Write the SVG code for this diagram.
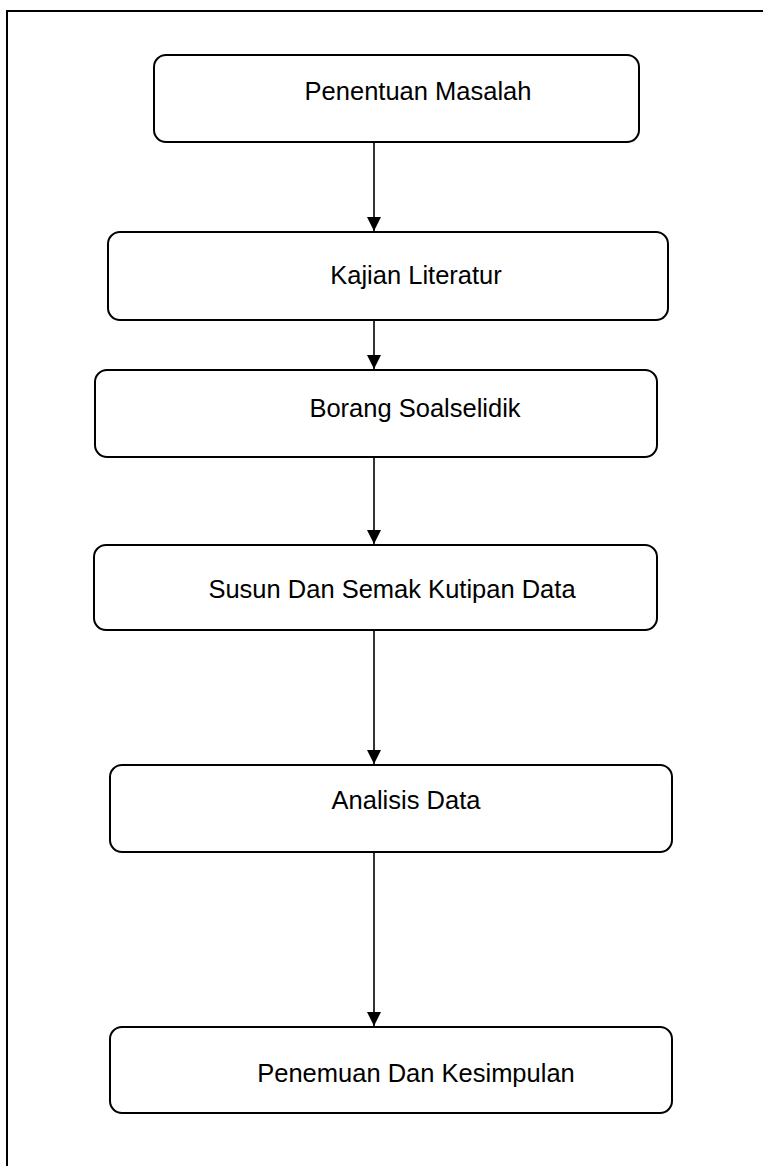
<svg xmlns="http://www.w3.org/2000/svg" width="763" height="1166" viewBox="0 0 763 1166">
<defs>
<style>
.box{fill:#fff;stroke:#000;stroke-width:2}
.lbl{font-family:"Liberation Sans",Arial,sans-serif;font-size:25.5px;fill:#000;text-anchor:middle}
.conn{stroke:#000;stroke-width:1.6;fill:none}
</style>
<marker id="arr" viewBox="0 0 14 14" refX="14" refY="7" markerWidth="14" markerHeight="14" markerUnits="userSpaceOnUse" orient="auto">
<path d="M0,0 L14,7 L0,14 z" fill="#000"/>
</marker>
</defs>
<rect x="0" y="0" width="763" height="1166" fill="#fff"/>
<rect id="frame" x="7" y="11" width="800" height="1200" fill="none" stroke="#000" stroke-width="2"/>
<g id="n1"><rect class="box" x="154" y="55" width="485" height="87" rx="12"/><text class="lbl" x="418" y="100">Penentuan Masalah</text></g>
<g id="n2"><rect class="box" x="108" y="232" width="560" height="88" rx="12"/><text class="lbl" x="416" y="284">Kajian Literatur</text></g>
<g id="n3"><rect class="box" x="95" y="370" width="562" height="87" rx="12"/><text class="lbl" x="415" y="417">Borang Soalselidik</text></g>
<g id="n4"><rect class="box" x="94" y="545" width="563" height="85" rx="12"/><text class="lbl" x="392" y="598">Susun Dan Semak Kutipan Data</text></g>
<g id="n5"><rect class="box" x="110" y="765" width="562" height="87" rx="12"/><text class="lbl" x="406" y="809">Analisis Data</text></g>
<g id="n6"><rect class="box" x="110" y="1027" width="562" height="86" rx="12"/><text class="lbl" x="416" y="1082">Penemuan Dan Kesimpulan</text></g>
<g id="connectors">
<line class="conn" x1="374" y1="143" x2="374" y2="231" marker-end="url(#arr)"/>
<line class="conn" x1="374" y1="321" x2="374" y2="369" marker-end="url(#arr)"/>
<line class="conn" x1="374" y1="458" x2="374" y2="544" marker-end="url(#arr)"/>
<line class="conn" x1="374" y1="631" x2="374" y2="764" marker-end="url(#arr)"/>
<line class="conn" x1="374" y1="853" x2="374" y2="1026" marker-end="url(#arr)"/>
</g>
</svg>
